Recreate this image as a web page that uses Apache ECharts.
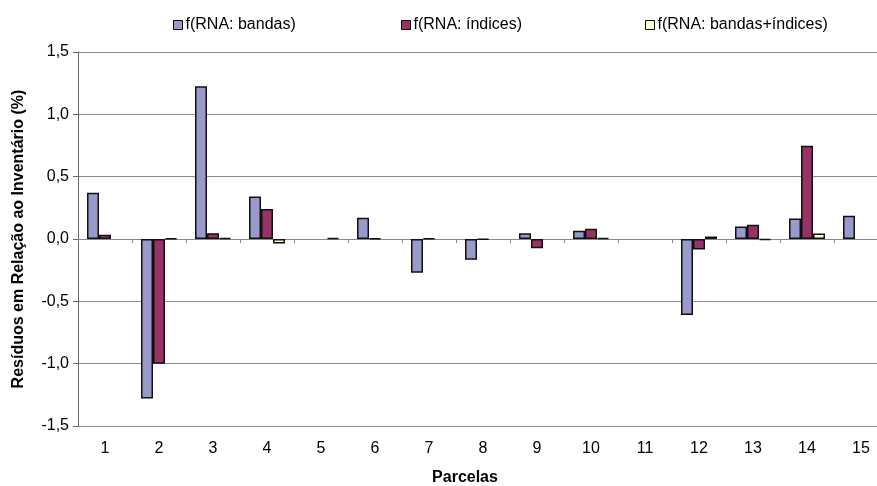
<!DOCTYPE html>
<html>
<head>
<meta charset="utf-8">
<script src="https://cdn.jsdelivr.net/npm/echarts@6/dist/echarts.min.js"></script>
<style>
html,body{margin:0;padding:0;background:#fff;}
#c{width:877px;height:486px;}
</style>
</head>
<body>
<div id="c"></div>
<script>
const categories = ['1','2','3','4','5','6','7','8','9','10','11','12','13','14','15'];
const seriesNames = ['f(RNA: bandas)', 'f(RNA: índices)', 'f(RNA: bandas+índices)'];
const bandas = [0.37, -1.28, 1.225, 0.34, null, 0.17, -0.27, -0.167, 0.047, 0.066, null, -0.61, 0.10, 0.164, 0.186];
const indices = [0.034, -1.0, 0.047, 0.24, null, 0.006, 0.006, -0.005, -0.074, 0.082, null, -0.084, 0.114, 0.747, null];
const bandasIndices = [null, 0.006, 0.008, -0.036, 0.008, null, null, null, null, 0.008, null, 0.02, -0.008, 0.044, null];
const yTicks = [-1.5, -1.0, -0.5, 0.0, 0.5, 1.0, 1.5];
const colors = ['#9999CC', '#993366', '#FFFFCC'];

const font = 'Liberation Sans, Arial, sans-serif';
const chart = echarts.init(document.getElementById('c'), null, {renderer: 'canvas'});
const dataSets = [bandas, indices, bandasIndices];

const legendPos = [168, 396, 640];
const legends = seriesNames.map((n, i) => ({
  data: [n],
  left: legendPos[i],
  top: 12,
  icon: 'rect',
  itemWidth: 9,
  itemHeight: 9,
  itemGap: 0,
  textStyle: {fontFamily: font, fontSize: 16, color: '#000', padding: [0, 0, 0, -2]},
  itemStyle: {borderColor: '#000', borderWidth: 1}
}));

chart.setOption({
  animation: false,
  textStyle: {fontFamily: font},
  legend: legends,
  grid: {left: 78, top: 52, width: 810, height: 374, outerBoundsMode: 'none', containLabel: false},
  xAxis: [{
    type: 'category',
    data: categories,
    axisLine: {onZero: true, lineStyle: {color: '#888', width: 1}},
    axisTick: {show: true, length: 4, lineStyle: {color: '#888'}},
    axisLabel: {show: false},
    splitLine: {show: false}
  }, {
    type: 'category',
    data: categories,
    position: 'bottom',
    axisLine: {show: false, onZero: false},
    axisTick: {show: false},
    axisLabel: {show: true, color: '#000', fontSize: 16, fontFamily: font, margin: 15},
    name: 'Parcelas',
    nameLocation: 'middle',
    nameGap: 44,
    nameTextStyle: {fontWeight: 'bold', fontSize: 16, color: '#000', fontFamily: font, padding: [0, 36, 0, 0]}
  }],
  yAxis: {
    type: 'value',
    min: yTicks[0],
    max: yTicks[yTicks.length - 1],
    interval: 0.5,
    axisLine: {show: true, lineStyle: {color: '#666'}},
    axisTick: {show: true, length: 5, lineStyle: {color: '#666'}},
    axisLabel: {
      color: '#000', fontSize: 16, fontFamily: font, margin: 9,
      formatter: v => v.toFixed(1).replace('.', ',')
    },
    splitLine: {show: true, lineStyle: {color: '#8c8c8c', width: 1}},
    name: 'Resíduos em Relação ao Inventário (%)',
    nameLocation: 'middle',
    nameGap: 51,
    nameTextStyle: {fontWeight: 'bold', fontSize: 16, color: '#000', fontFamily: font}
  },
  series: dataSets.map((d, i) => ({
    name: seriesNames[i],
    type: 'bar',
    xAxisIndex: 0,
    data: d,
    barWidth: 12,
    barGap: '0%',
    itemStyle: {color: colors[i], borderColor: '#111', borderWidth: 1.5}
  }))
});
</script>
</body>
</html>
